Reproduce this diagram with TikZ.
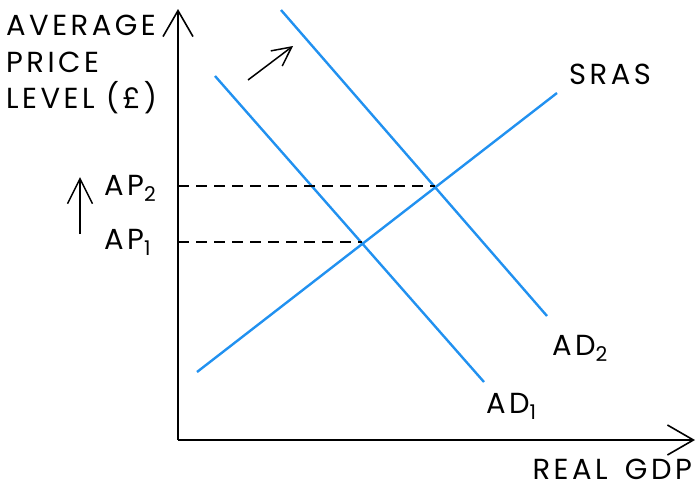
\documentclass[tikz,border=0pt]{standalone}
\usepackage{fontspec}
\setmainfont{Poppins}[LetterSpace=12]
\usepackage{xcolor}
\usetikzlibrary{arrows.meta}
\definecolor{curveblue}{RGB}{33,145,240}
\tikzset{
  curve/.style={line width=2.4pt, curveblue},
  axis/.style={line width=1.7pt, -{Straight Barb[length=26pt,width=30pt,line width=1.6pt]}},
  shiftarrow/.style={line width=1.5pt, -{Straight Barb[length=#1,width=#1,line width=1.5pt]}},
  guide/.style={line width=1.3pt, dash pattern=on 11pt off 7pt},
  lbl/.style={font=\fontsize{29}{36.5}\selectfont, inner sep=0pt, text depth=0pt},
}
\begin{document}
\begin{tikzpicture}[x=1pt,y=-1pt]
    \useasboundingbox (0,0) rectangle (696,488);
    % Axes
    \coordinate (O) at (178,440);
    \draw[axis] (O) -- (178,9) coordinate (ytop);
    \draw[axis] (O) -- (695,440) coordinate (xend);
    \node[lbl, anchor=base west] (ylab1) at (6,35) {AVERAGE};
    \node[lbl, anchor=base west] (ylab2) at (6,72) {PRICE};
    \node[lbl, anchor=base west] (ylab3) at (6,108) {LEVEL (£)};
    \node[lbl, anchor=base east] (xlab) at (692,479) {REAL\hspace{0.6em}GDP};

    % Curves
    \draw[curve] (197,372) coordinate (s1) -- (557,93) coordinate (s2);
    \draw[curve] (215,76) coordinate (d1a) -- (484,382) coordinate (d1b);
    \draw[curve] (281,10) coordinate (d2a) -- (547,316) coordinate (d2b);
    \node[lbl, anchor=base west] (sras) at (569,84) {SRAS};
    \node[lbl, anchor=base west] (ad2) at (552,355) {AD\textsubscript{2}};
    \node[lbl, anchor=base west] (ad1) at (486,413) {AD\textsubscript{1}};

    % Equilibria
    \coordinate (e1) at (362,242);
    \coordinate (e2) at (435,186);
    \draw[guide] (178,242) -- (e1);
    \draw[guide] (178,186) -- (e2);
    \node[lbl, anchor=base west] (ap2) at (104,195) {AP\textsubscript{2}};
    \node[lbl, anchor=base west] (ap1) at (104,249) {AP\textsubscript{1}};

    % Shift arrows
    \coordinate (u1) at (80,234);
    \coordinate (u2) at (80,177);
    \draw[shiftarrow=25pt] (u1) -- (u2);
    \coordinate (r1) at (248,80);
    \coordinate (r2) at (293,46);
    \draw[shiftarrow=19pt] (r1) -- (r2);
\end{tikzpicture}
\end{document}
